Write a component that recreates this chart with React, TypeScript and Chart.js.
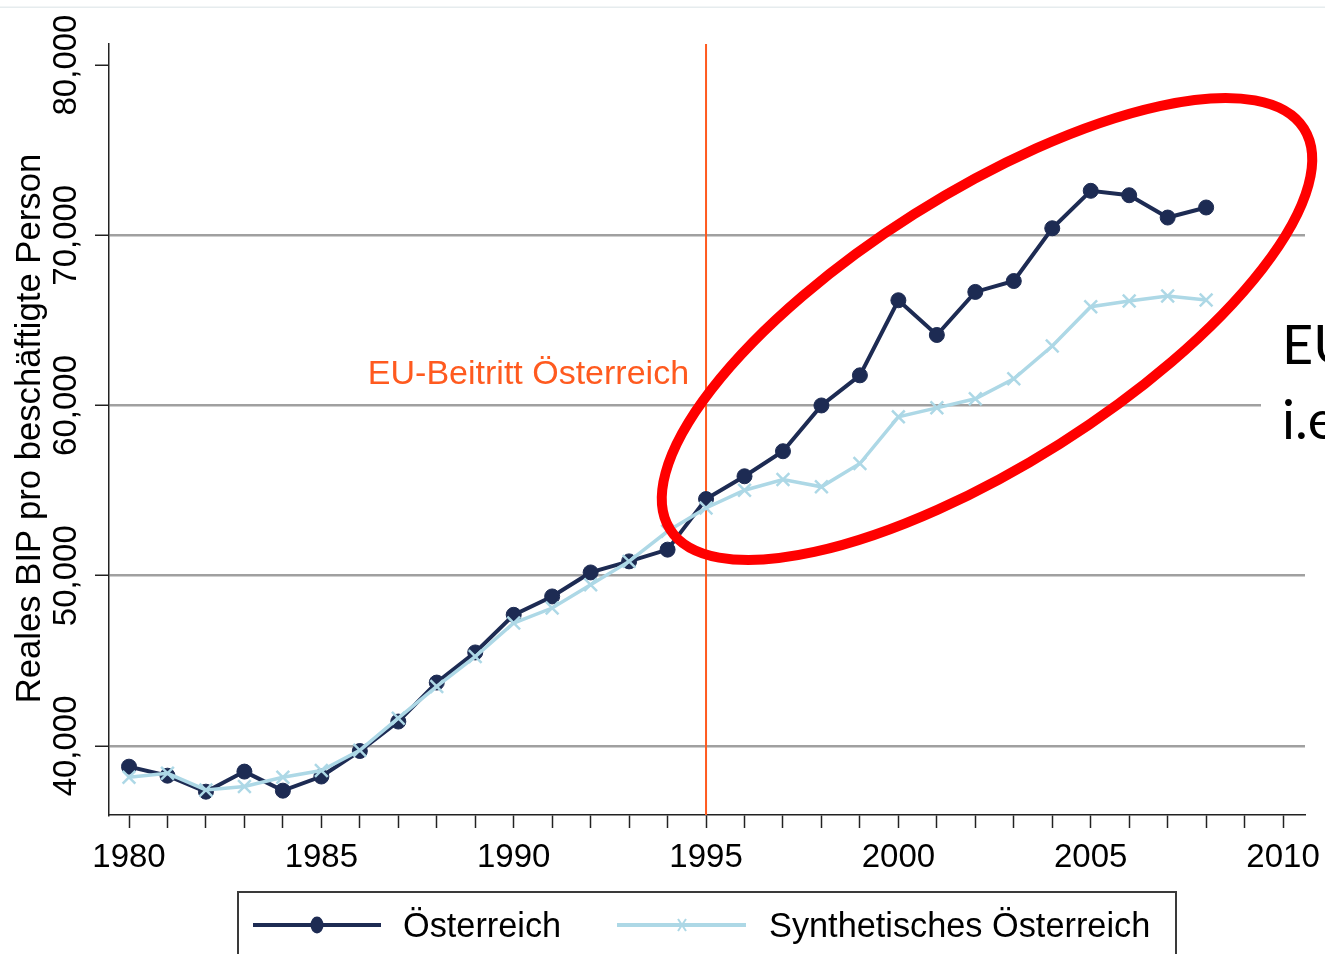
import React, { useEffect, useRef } from 'react';
import { Chart, registerables } from 'chart.js';

Chart.register(...registerables);

// ---- data ----
const years = [1980, 1981, 1982, 1983, 1984, 1985, 1986, 1987, 1988, 1989, 1990, 1991, 1992, 1993, 1994,
  1995, 1996, 1997, 1998, 1999, 2000, 2001, 2002, 2003, 2004, 2005, 2006, 2007, 2008];
const austria = [38780, 38250, 37310, 38490, 37370, 38200, 39700, 41430, 43720, 45490, 47700, 48780, 50190, 50840, 51530,
  54500, 55840, 57310, 60000, 61770, 66180, 64140, 66670, 67310, 70410, 72610, 72350, 71040, 71630];
const synthetic = [38160, 38390, 37410, 37610, 38160, 38550, 39740, 41630, 43490, 45250, 47220, 48100, 49470, 50840, 52610,
  53980, 55020, 55650, 55220, 56590, 59330, 59860, 60390, 61570, 63490, 65800, 66140, 66430, 66190];
const xTickYears = [1980, 1981, 1982, 1983, 1984, 1985, 1986, 1987, 1988, 1989, 1990, 1991, 1992, 1993, 1994, 1995,
  1996, 1997, 1998, 1999, 2000, 2001, 2002, 2003, 2004, 2005, 2006, 2007, 2008, 2009, 2010];
const xLabelYears = [1980, 1985, 1990, 1995, 2000, 2005, 2010];
const yTickValues = [40000, 50000, 60000, 70000, 80000];
const yTickLabels = ['40,000', '50,000', '60,000', '70,000', '80,000'];
const yGridValues = [40000, 50000, 60000, 70000];
const seriesNames = ['Österreich', 'Synthetisches Österreich'];
const yTitle = 'Reales BIP pro beschäftigte Person';
const treatmentYear = 1995;
const annotationText = 'EU-Beitritt Österreich';
const annotationValue = 61235;
const overlayLines = ['EU', 'i.e'];

const X_MIN = 1979.48;
const X_MAX = 2010.57;
const Y_MIN = 35940;
const Y_MAX = 81235;

const DARK = '#1d2b53';
const LIGHT = '#add8e6';
const ORANGE = '#ff5a1f';
const FONT = '"Liberation Sans", Arial, sans-serif';

const decorPlugin = {
  id: 'decor',
  beforeDatasetsDraw(chart: any) {
    const { ctx, chartArea, scales } = chart;
    const x = scales.x;
    const y = scales.y;
    const px = x.getPixelForValue(treatmentYear);
    ctx.save();
    ctx.strokeStyle = ORANGE;
    ctx.lineWidth = 2;
    ctx.beginPath();
    ctx.moveTo(px, chartArea.top);
    ctx.lineTo(px, chartArea.bottom);
    ctx.stroke();
    ctx.fillStyle = ORANGE;
    ctx.font = `34px ${FONT}`;
    ctx.textAlign = 'right';
    ctx.textBaseline = 'alphabetic';
    ctx.fillText(annotationText, px - 17, y.getPixelForValue(annotationValue));
    ctx.restore();
  },
  afterDraw(chart: any) {
    const { ctx, chartArea, scales } = chart;
    const x = scales.x;
    const y = scales.y;
    ctx.save();

    // faint slide line at top
    ctx.fillStyle = '#e6ecee';
    ctx.fillRect(0, 6.5, 1325, 1.5);

    // x tick labels
    ctx.fillStyle = '#000';
    ctx.font = `33px ${FONT}`;
    ctx.textAlign = 'center';
    ctx.textBaseline = 'alphabetic';
    xLabelYears.forEach((yr) => {
      ctx.fillText(String(yr), x.getPixelForValue(yr), chartArea.bottom + 52);
    });

    // y tick labels (rotated)
    ctx.font = `33px ${FONT}`;
    yTickValues.forEach((v, i) => {
      const py = y.getPixelForValue(v);
      ctx.save();
      ctx.translate(chartArea.left - 42, py);
      ctx.rotate(-Math.PI / 2);
      ctx.textAlign = 'center';
      ctx.textBaseline = 'middle';
      ctx.fillText(yTickLabels[i], 0, 0);
      ctx.restore();
    });

    // y title
    ctx.save();
    ctx.font = `34.7px ${FONT}`;
    ctx.translate(chartArea.left - 79, (chartArea.top + chartArea.bottom) / 2 - 1);
    ctx.rotate(-Math.PI / 2);
    ctx.textAlign = 'center';
    ctx.textBaseline = 'middle';
    ctx.fillText(yTitle, 0, 0);
    ctx.restore();

    // legend
    const cx = (chartArea.left + chartArea.right) / 2;
    const boxL = cx - 469;
    const boxT = 892;
    ctx.strokeStyle = '#3a3a3a';
    ctx.lineWidth = 2;
    ctx.strokeRect(boxL, boxT, 938, 120);
    const ly = 925;
    // series 1
    ctx.strokeStyle = DARK;
    ctx.lineWidth = 4;
    ctx.beginPath();
    ctx.moveTo(boxL + 15, ly);
    ctx.lineTo(boxL + 143, ly);
    ctx.stroke();
    ctx.fillStyle = DARK;
    ctx.beginPath();
    ctx.ellipse(boxL + 79, ly, 6.5, 8.5, 0, 0, Math.PI * 2);
    ctx.fill();
    // series 2
    ctx.strokeStyle = LIGHT;
    ctx.lineWidth = 4;
    ctx.beginPath();
    ctx.moveTo(boxL + 379, ly);
    ctx.lineTo(boxL + 508, ly);
    ctx.stroke();
    ctx.lineWidth = 2;
    ctx.beginPath();
    ctx.moveTo(boxL + 444 - 4, ly - 6);
    ctx.lineTo(boxL + 444 + 4, ly + 6);
    ctx.moveTo(boxL + 444 + 4, ly - 6);
    ctx.lineTo(boxL + 444 - 4, ly + 6);
    ctx.stroke();
    ctx.fillStyle = '#000';
    ctx.font = `34.3px ${FONT}`;
    ctx.textAlign = 'left';
    ctx.textBaseline = 'alphabetic';
    ctx.fillText(seriesNames[0], boxL + 165, 937);
    ctx.fillText(seriesNames[1], boxL + 531, 937);

    // slide overlay text box (covers part of gridline)
    ctx.fillStyle = '#ffffff';
    ctx.fillRect(1261, 305, 70, 160);
    ctx.fillStyle = '#000';
    ctx.font = '54px Lato, "Open Sans", sans-serif';
    ctx.textAlign = 'left';
    ctx.fillText(overlayLines[0], 1282, 364);
    ctx.fillText(overlayLines[1], 1282, 439);

    // red ellipse highlight
    ctx.strokeStyle = '#ff0000';
    ctx.lineWidth = 10;
    ctx.beginPath();
    ctx.ellipse(987, 329, 375, 136, -32.3 * Math.PI / 180, 0, Math.PI * 2);
    ctx.stroke();

    ctx.restore();
  },
};

export default function App() {
  const canvasRef = useRef<HTMLCanvasElement | null>(null);

  useEffect(() => {
    if (!canvasRef.current) return;
    const chart = new Chart(canvasRef.current, {
      type: 'line',
      data: {
        datasets: [
          {
            label: seriesNames[1],
            data: years.map((yr, i) => ({ x: yr, y: synthetic[i] })),
            borderColor: LIGHT,
            backgroundColor: LIGHT,
            borderWidth: 3.5,
            pointStyle: 'crossRot',
            pointRadius: 9,
            pointBorderWidth: 2.5,
            pointBorderColor: LIGHT,
            tension: 0,
          },
          {
            label: seriesNames[0],
            data: years.map((yr, i) => ({ x: yr, y: austria[i] })),
            borderColor: DARK,
            backgroundColor: DARK,
            borderWidth: 4,
            pointStyle: 'circle',
            pointRadius: 7.5,
            pointBorderWidth: 1,
            pointBackgroundColor: DARK,
            pointBorderColor: DARK,
            tension: 0,
          },
        ],
      },
      options: {
        responsive: false,
        animation: false,
        devicePixelRatio: 1,
        layout: { padding: { left: 0, top: 44, right: 20, bottom: 0 } },
        plugins: {
          legend: { display: false },
          tooltip: { enabled: false },
        },
        scales: {
          x: {
            type: 'linear',
            min: X_MIN,
            max: X_MAX,
            afterBuildTicks: (s: any) => {
              s.ticks = xTickYears.map((v) => ({ value: v }));
            },
            afterFit: (s: any) => {
              s.height = 139;
            },
            ticks: { display: false },
            grid: {
              drawOnChartArea: false,
              drawTicks: true,
              tickLength: 13,
              tickColor: '#222',
              tickWidth: 1.5,
            },
            border: { display: true, color: '#222', width: 1.5 },
          },
          y: {
            type: 'linear',
            min: Y_MIN,
            max: Y_MAX,
            afterBuildTicks: (s: any) => {
              s.ticks = yTickValues.map((v) => ({ value: v }));
            },
            afterFit: (s: any) => {
              s.width = 109;
            },
            ticks: { display: false },
            grid: {
              drawOnChartArea: true,
              drawTicks: true,
              tickLength: 14,
              tickColor: '#222',
              tickWidth: 1.5,
              lineWidth: 2.5,
              color: (c: any) => (c.tick && yGridValues.includes(c.tick.value) ? '#a0a0a0' : 'rgba(0,0,0,0)'),
            },
            border: { display: true, color: '#222', width: 1.5 },
          },
        },
      },
      plugins: [decorPlugin],
    } as any);
    return () => chart.destroy();
  }, []);

  return (
    <div style={{ position: 'absolute', left: 0, top: 0, width: 1325, height: 954, background: '#fff', overflow: 'hidden' }}>
      <canvas ref={canvasRef} width={1325} height={954} style={{ display: 'block' }} />
    </div>
  );
}
